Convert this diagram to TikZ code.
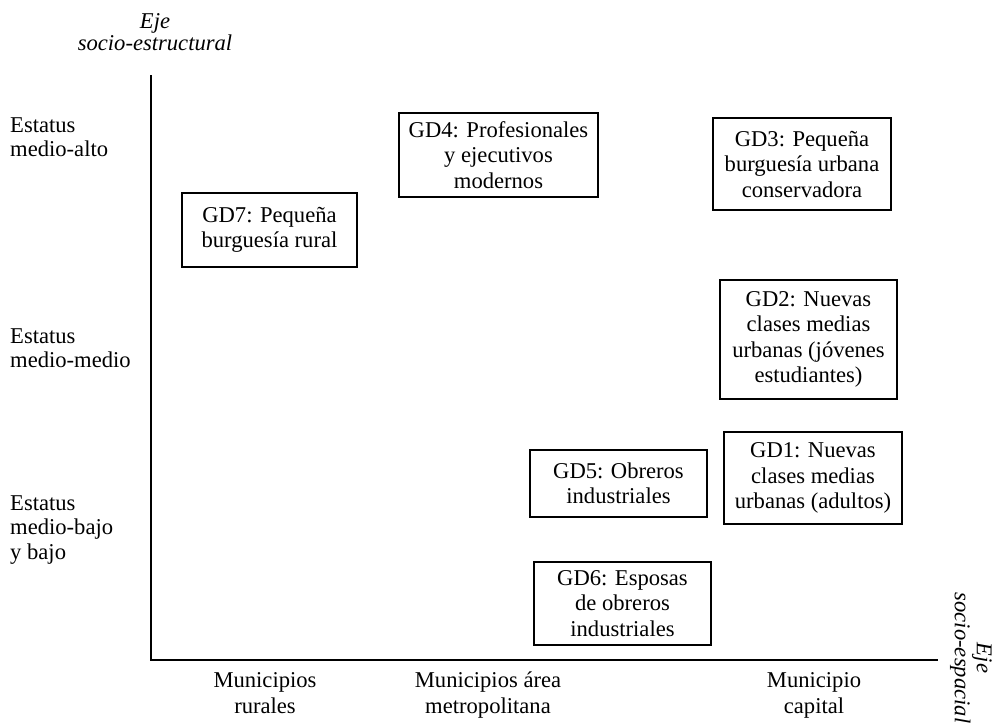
\documentclass[tikz,border=0pt]{standalone}
\usepackage{fontspec}
\setmainfont{Liberation Serif}
\begin{document}
\begin{tikzpicture}[x=1pt,y=-1pt,
  txt/.style={font=\fontsize{22.6}{25.5}\selectfont, inner sep=0pt, align=center},
  lbl/.style={font=\fontsize{22.6}{24.5}\selectfont, inner sep=0pt, align=left, anchor=west},
  axlbl/.style={font=\fontsize{22.6}{22}\selectfont\itshape, inner sep=0pt, align=center},
  grp/.style={draw, line width=1.6pt, txt, minimum width=#1},
  axis/.style={line width=1.8pt}
]
\useasboundingbox (0,0) rectangle (993,726);

% axes
\coordinate (top) at (151,75);
\coordinate (origin) at (151,660);
\coordinate (xend) at (938,660);
\draw[axis] (top) -- (origin) -- (xend);

% axis titles
\node[axlbl] (ytitle) at (155,32) {Eje\\socio-estructural};
\node[axlbl, rotate=-90] (xtitle) at (971,658) {Eje\\socio-espacial};

% y-level labels
\node[lbl] (alto) at (10,137) {Estatus\\medio-alto};
\node[lbl] (medio) at (10,348) {Estatus\\medio-medio};
\node[lbl] (bajo) at (10,530) {Estatus\\medio-bajo\\y bajo};

% x-level labels
\node[txt, anchor=north] (rur) at (265,672) {\vphantom{á}Municipios\\rurales};
\node[txt, anchor=north] (met) at (488,672) {Municipios área\\metropolitana};
\node[txt, anchor=north] (cap) at (814,672) {\vphantom{á}Municipio\\capital};

% groups
\node[grp=175pt, minimum height=74pt] (gd7) at (269.5,230) {GD7: Pequeña\\burguesía rural};
\node[grp=199pt, minimum height=84pt] (gd4) at (498.5,155) {GD4: Profesionales\\y ejecutivos\\modernos};
\node[grp=178pt, minimum height=92pt] (gd3) at (802,164) {GD3: Pequeña\\burguesía urbana\\conservadora};
\node[grp=177pt, minimum height=119pt] (gd2) at (808.5,339.5) {GD2: Nuevas\\clases medias\\urbanas (jóvenes\\estudiantes)};
\node[grp=178pt, minimum height=92pt] (gd1) at (813,478) {GD1: Nuevas\\clases medias\\urbanas (adultos)};
\node[grp=177pt, minimum height=67pt] (gd5) at (618.5,483.5) {GD5: Obreros\\industriales};
\node[grp=177pt, minimum height=83pt] (gd6) at (622.5,603.5) {GD6: Esposas\\de obreros\\industriales};
\end{tikzpicture}
\end{document}
